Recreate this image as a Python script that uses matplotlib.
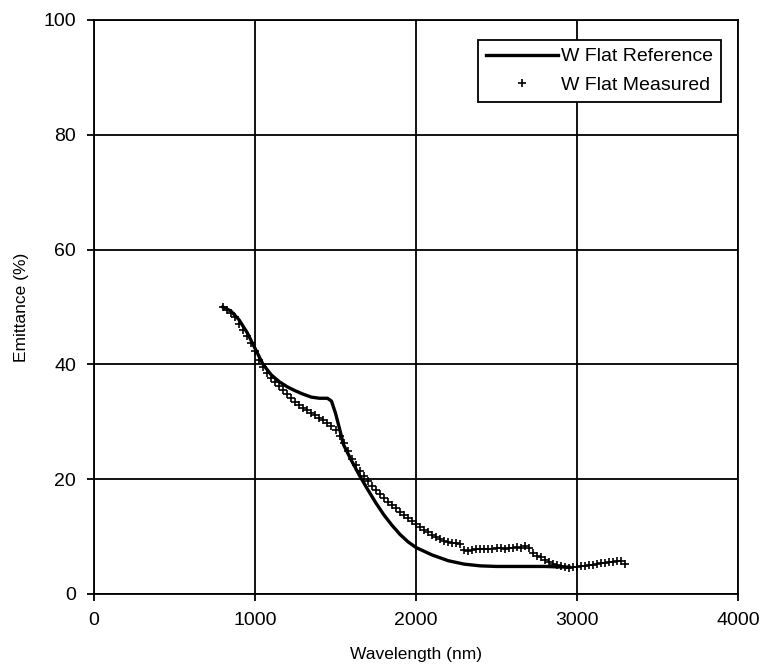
import numpy as np
import matplotlib
matplotlib.use("Agg")
import matplotlib.pyplot as plt

plt.rcParams["font.family"] = ["Liberation Sans", "DejaVu Sans"]

# W Flat Reference (solid line)
ref_wl = [800, 850, 900, 950, 1000, 1050, 1100, 1150, 1200, 1250, 1300, 1350, 1400, 1450,
          1475, 1500, 1525, 1550, 1600, 1650, 1700, 1750, 1800, 1850, 1900, 1950, 2000,
          2100, 2200, 2300, 2400, 2500, 2600, 2700, 2800, 2900, 2950]
ref_em = [50.0, 49.3, 47.8, 45.6, 42.8, 40.0, 38.2, 37.0, 36.1, 35.4, 34.8, 34.3, 34.1, 34.1,
          33.6, 31.5, 28.8, 26.0, 23.2, 20.6, 18.2, 15.9, 13.8, 12.0, 10.4, 9.1, 8.1,
          6.8, 5.8, 5.2, 4.9, 4.8, 4.8, 4.8, 4.8, 4.7, 4.7]

# W Flat Measured (crosses), every 25 nm from 800 to 3300
meas_wl = np.arange(800, 3301, 25)
meas_em = [50.0, 49.5, 49.0, 48.2, 47.0, 46.0, 45.0, 43.8, 42.3, 40.8,
           39.6, 38.5, 37.6, 36.9, 36.3, 35.6, 34.9, 34.1, 33.5, 32.9,
           32.4, 32.0, 31.5, 31.1, 30.7, 30.3, 29.8, 29.2, 28.5, 27.5,
           26.3, 25.0, 23.6, 22.5, 21.5, 20.5, 19.6, 18.9, 18.2, 17.4,
           16.8, 16.1, 15.5, 14.9, 14.3, 13.8, 13.2, 12.7, 12.2, 11.7,
           11.2, 10.8, 10.3, 9.9, 9.5, 9.2, 9.0, 8.9, 8.9, 8.7,
           7.7, 7.5, 7.6, 7.8, 7.9, 7.9, 7.8, 7.9, 8.0, 8.0,
           7.9, 8.0, 8.1, 8.2, 8.1, 8.3, 8.0, 7.2, 6.7, 6.4,
           6.0, 5.6, 5.3, 5.0, 4.8, 4.7, 4.6, 4.7, 4.7, 4.8,
           4.9, 5.0, 5.1, 5.3, 5.4, 5.4, 5.5, 5.6, 5.8, 5.7,
           5.3]

fig = plt.figure(figsize=(7.62, 6.72), dpi=100)
ax = fig.add_axes([94/762, 1-594/672, 644/762, 574/672])

ax.plot(ref_wl, ref_em, color="black", lw=2.4, label="W Flat Reference", zorder=3)
ax.plot(meas_wl, meas_em, ls="none", marker="+", ms=6, mew=1.2, color="black",
        label="W Flat Measured", zorder=4)

ax.set_xlim(0, 4000); ax.set_ylim(0, 100)
ax.set_xticks([0, 1000, 2000, 3000, 4000]); ax.set_yticks([0, 20, 40, 60, 80, 100])
ax.grid(True, color="black", lw=1.3)
ax.set_axisbelow(True)
for s in ax.spines.values():
    s.set_color("black"); s.set_linewidth(1.3)
ax.tick_params(direction="out", length=5, width=1.3, labelsize=14, pad=8, colors="black")
ax.set_xlabel("Wavelength (nm)", fontsize=12.5, labelpad=13)
ax.set_ylabel("Emittance (%)", fontsize=12.5, labelpad=10)

leg = ax.legend(loc="upper right", bbox_to_anchor=(0.974, 0.965), borderaxespad=0,
                fontsize=14, fancybox=False, framealpha=1, edgecolor="black",
                handlelength=3.7, handletextpad=0.2, borderpad=0.4, labelspacing=0.55)
leg.get_frame().set_linewidth(1.3)

plt.savefig("out.png", dpi=100)
